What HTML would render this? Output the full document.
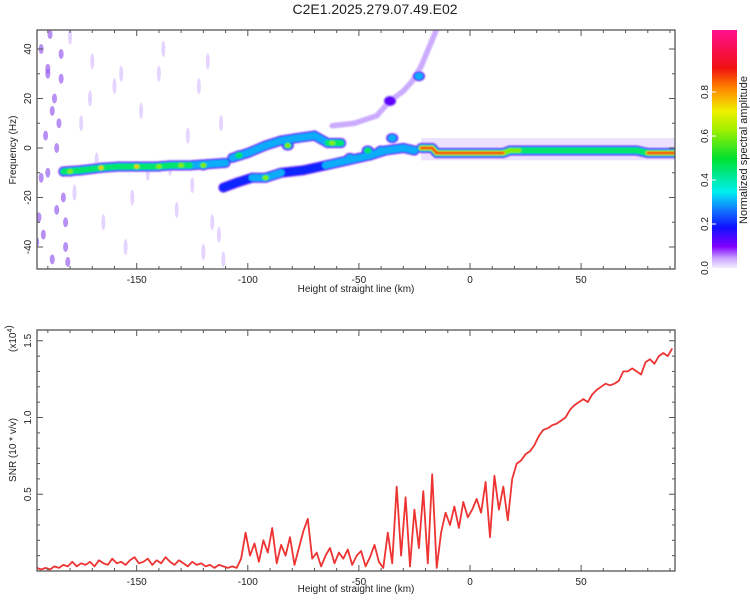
<!DOCTYPE html>
<html><head><meta charset="utf-8"><style>
body{margin:0;background:#fff;font-family:"Liberation Sans",sans-serif;}
svg{display:block}
text{font-family:"Liberation Sans",sans-serif;fill:#222}
</style></head><body>
<svg id="s" width="750" height="600" xmlns="http://www.w3.org/2000/svg">
<defs>
<filter id="bl" x="-20%" y="-50%" width="140%" height="200%"><feGaussianBlur stdDeviation="0.8"/></filter>
<linearGradient id="cb" x1="0" y1="1" x2="0" y2="0">
<stop offset="0" stop-color="#f4ecff"/><stop offset="0.04" stop-color="#c9a6ff"/>
<stop offset="0.09" stop-color="#8000ff"/><stop offset="0.17" stop-color="#1010ff"/>
<stop offset="0.25" stop-color="#1080ff"/><stop offset="0.32" stop-color="#00f0f0"/>
<stop offset="0.46" stop-color="#00e030"/><stop offset="0.58" stop-color="#a0f000"/>
<stop offset="0.66" stop-color="#f0f000"/><stop offset="0.76" stop-color="#ff8000"/>
<stop offset="0.84" stop-color="#f01010"/><stop offset="1" stop-color="#ff1090"/>
</linearGradient>
<clipPath id="cp1"><rect x="37" y="30" width="638" height="239"/></clipPath>
<clipPath id="cp2"><rect x="37" y="330" width="638" height="241"/></clipPath>
</defs>
<text x="375" y="14" font-size="14" text-anchor="middle">C2E1.2025.279.07.49.E02</text>
<g id="heat" clip-path="url(#cp1)"></g>
<g id="ax1"></g>
<g id="line" clip-path="url(#cp2)"></g>
<g id="ax2"></g>
<rect x="712" y="30" width="25" height="238" fill="url(#cb)"/>
<g id="cbt"></g>
<text transform="translate(747,150) rotate(-90)" font-size="11" text-anchor="middle">Normalized spectral amplitude</text>
<text transform="translate(16,150) rotate(-90)" font-size="10" text-anchor="middle">Frequency (Hz)</text>
<text x="356" y="292" font-size="10" text-anchor="middle">Height of straight line (km)</text>
<text transform="translate(16,450) rotate(-90)" font-size="10" text-anchor="middle">SNR (10 * v/v)</text>
<text transform="translate(16,352) rotate(-90)" font-size="10" text-anchor="start">(x10<tspan font-size="7" dy="-4">4</tspan>)</text>
<text x="356" y="592" font-size="10" text-anchor="middle">Height of straight line (km)</text>
</svg>
<script>
// SNR data
const snrX0 = -195, snrStep = 2;
const snrValues = [0.02,0.01,0.02,0.01,0.03,0.02,0.04,0.03,0.06,0.03,0.05,0.04,0.06,0.03,0.07,0.05,0.04,0.08,0.05,0.06,0.04,0.07,0.09,0.05,0.06,0.08,0.04,0.07,0.05,0.09,0.06,0.04,0.07,0.05,0.03,0.06,0.04,0.05,0.03,0.04,0.02,0.04,0.03,0.02,0.03,0.02,
0.08,0.25,0.1,0.18,0.06,0.2,0.12,0.28,0.05,0.17,0.1,0.22,0.04,0.15,0.26,0.34,0.08,0.12,0.03,0.1,0.15,0.05,0.12,0.08,0.14,0.04,0.1,0.13,0.03,0.09,0.17,0.06,
0.02,0.25,0.05,0.55,0.1,0.48,0.03,0.4,0.15,0.52,0.05,0.63,0.02,
0.25,0.38,0.3,0.42,0.28,0.45,0.35,0.4,0.47,0.38,0.58,0.22,0.62,0.4,0.55,0.33,0.6,
0.7,0.72,0.76,0.78,0.82,0.88,0.92,0.93,0.95,0.96,0.98,1.0,1.05,1.08,1.1,1.12,1.1,1.15,1.18,1.2,1.22,1.21,1.22,1.24,1.3,1.3,1.32,1.3,1.28,1.36,1.38,1.35,1.4,1.42,1.4,1.45];
// spectral tracks: height (km), frequency (Hz), amplitude
const trackMainX = [-183,-175,-166,-158,-150,-142,-134,-126,-118,-110];
const trackMainF = [-9.5,-9,-8,-7.5,-7.5,-7.5,-7,-7,-6.5,-6];
const trackMainA = [0.55,0.5,0.6,0.5,0.6,0.5,0.5,0.45,0.42,0.35];
const trackUpX = [-107,-100,-92,-85,-78,-70,-64,-58];
const trackUpF = [-4,-2,1,3,4,5,2,2];
const trackUpA = [0.35,0.3,0.4,0.45,0.35,0.3,0.55,0.5];
const trackLowX = [-111,-105,-98,-92,-85,-75,-65,-55,-45,-38,-30,-25];
const trackLowF = [-16,-14,-12,-12,-10,-9,-7,-5,-3,-1,0,-1];
const trackLowA = [0.4,0.25,0.3,0.55,0.3,0.2,0.3,0.4,0.35,0.35,0.3,0.35];
const trackZeroX = [-22,-17,-15,0,15,18,22,40,60,75,80,92];
const trackZeroF = [0,0,-2,-2,-2,-1,-1,-1,-1,-1,-2,-2];
const trackZeroA = [0.9,0.9,0.92,0.92,0.9,0.6,0.6,0.5,0.45,0.55,0.92,0.92];
const trackFaintX = [-62,-52,-42,-36,-30,-26,-22,-15];
const trackFaintF = [9,10,13,19,23,27,33,48];
const trackFaintA = [0.1,0.08,0.1,0.12,0.05,0.05,0.05,0.05];
// highlight spots
const spotX = [-180,-166,-150,-140,-130,-120,-104,-92,-82,-62,-54,-46,-40,-35,-23,-36];
const spotF = [-9.5,-8,-7.5,-7.5,-7,-7,-3,-12,1,2,-4,-1,-1,4,29,19];
const spotA = [0.65,0.8,0.8,0.7,0.65,0.6,0.55,0.6,0.6,0.6,0.4,0.45,0.4,0.35,0.4,0.15];
// faint background speckle
const speckX = [-193,-190,-187,-185,-183,-192,-188,-186,-180,-170,-165,-160,-155,-148,-140,-132,-125,-118,-113,-111,-175,-145,-127,-120,-190,-184,-178,-168,-152,-138,-122,-116,-194,-182,-171,-157,-135,-112,-189,-181,-191,-186,-193,-184,-188,-195,-182,-190];
const speckF = [40,30,20,10,-20,-35,-45,0,45,35,-30,25,-40,15,30,-25,-15,35,-35,-45,10,-10,5,-42,-10,38,-18,-5,-20,40,25,-30,-28,-40,20,30,-8,10,46,-46,5,-25,-12,28,15,-38,-30,32];
const cmapStops=[[0,[244,236,255]],[0.04,[201,166,255]],[0.09,[128,0,255]],[0.17,[16,16,255]],[0.25,[16,128,255]],[0.32,[0,240,240]],[0.46,[0,224,48]],[0.58,[160,240,0]],[0.66,[240,240,0]],[0.76,[255,128,0]],[0.84,[240,16,16]],[1,[255,16,144]]];
function cmap(v){v=v/1.08;for(let i=1;i<cmapStops.length;i++){if(v<=cmapStops[i][0]){const a=cmapStops[i-1],b=cmapStops[i],t=(v-a[0])/(b[0]-a[0]);const c=a[1].map((x,k)=>Math.round(x+(b[1][k]-x)*t));return`rgb(${c})`;}}return'rgb(255,16,144)';}
const NS="http://www.w3.org/2000/svg";
const X=x=>470+x*2.222, YF=f=>148-f*2.475, YS=v=>571-v*153.5;
function mk(p,tag,at){const e=document.createElementNS(NS,tag);for(const k in at)e.setAttribute(k,at[k]);p.appendChild(e);return e;}
const heat=document.getElementById('heat');
speckX.forEach((x,i)=>{const dark=x<-180;const e=mk(heat,'ellipse',{cx:X(x),cy:YF(speckF[i]),rx:dark?2.5:2,ry:dark?5:8,fill:dark?'#9a60f0':'#d4b8ff',opacity:dark?0.7:0.6});

});
const halo=mk(heat,'rect',{x:X(-22),y:YF(4),width:X(92)-X(-22),height:YF(-5)-YF(4),fill:'#ece2ff'});


const levels=[0.04,0.12,0.2,0.3,0.45,0.6,0.75,0.88];
const g=mk(heat,'g',{filter:'url(#bl)'});
const tracks=[[trackMainX,trackMainF,trackMainA],[trackUpX,trackUpF,trackUpA],[trackLowX,trackLowF,trackLowA],[trackFaintX,trackFaintF,trackFaintA],[trackZeroX,trackZeroF,trackZeroA]];
levels.forEach((l,li)=>{
 const w=11-li*1.25;
 tracks.forEach(([tx,tf,ta])=>{
  for(let i=0;i<tx.length-1;i++){const a=Math.min(ta[i],ta[i+1]);if(l<=a){
   const e=mk(g,'line',{x1:X(tx[i]),y1:YF(tf[i]),x2:X(tx[i+1]),y2:YF(tf[i+1]),stroke:cmap(l),'stroke-width':a<0.15?w*0.5:w,'stroke-linecap':'round'});
   
   }}
 });
 spotX.forEach((x,i)=>{if(l<=spotA[i]){const e=mk(g,'ellipse',{cx:X(x),cy:YF(spotF[i]),rx:w*0.6,ry:w*0.5,fill:cmap(l)});
 
 }});
});
function axes(id,y0,y1,yticks,yminor){
 const ax=document.getElementById(id);
 mk(ax,'rect',{x:37,y:y0,width:638,height:y1-y0,fill:'none',stroke:'#555','stroke-width':1.3});
 for(let v=-190;v<=90;v+=10){const major=v%50===0,len=major?6:3,px=X(v);
  mk(ax,'line',{x1:px,x2:px,y1:y1,y2:y1-len,stroke:'#555'});mk(ax,'line',{x1:px,x2:px,y1:y0,y2:y0+len,stroke:'#555'});
  if(major){const t=mk(ax,'text',{x:px,y:y1+14,'font-size':10,'text-anchor':'middle'});t.textContent=v;
  
  }}
 yminor.forEach(([py,major])=>{const len=major?6:3;mk(ax,'line',{x1:37,x2:37+len,y1:py,y2:py,stroke:'#555'});mk(ax,'line',{x1:675,x2:675-len,y1:py,y2:py,stroke:'#555'});});
 yticks.forEach(([py,lab])=>{const t=mk(ax,'text',{transform:`translate(31,${py}) rotate(-90)`,'font-size':10,'text-anchor':'middle'});t.textContent=lab;
 
 });
}
const yt1=[],ym1=[];for(let f=-40;f<=40;f+=10){ym1.push([YF(f),f%20===0]);if(f%20===0)yt1.push([YF(f),f]);}
axes('ax1',30,269,yt1,ym1);
const yt2=[],ym2=[];for(let k=1;k<=15;k++){const v=k/10;ym2.push([YS(v),k%5===0]);if(k%5===0)yt2.push([YS(v),v.toFixed(1)]);}
axes('ax2',330,571,yt2,ym2);
const line=document.getElementById('line');
const pts=snrValues.map((v,i)=>`${X(snrX0+i*snrStep).toFixed(1)},${YS(v).toFixed(1)}`).join(' ');
const pl=mk(line,'polyline',{points:pts,fill:'none',stroke:'#ee3333','stroke-width':1.8,'stroke-linejoin':'round'});


const cbt=document.getElementById('cbt');
[0,0.2,0.4,0.6,0.8].forEach(v=>{const py=268-v*220;
 mk(cbt,'line',{x1:712,x2:716,y1:py,y2:py,stroke:'#fff'});
 const t=mk(cbt,'text',{transform:`translate(708,${py}) rotate(-90)`,'font-size':10,'text-anchor':'middle'});t.textContent=v.toFixed(1);
 
 });
</script>
</body></html>
